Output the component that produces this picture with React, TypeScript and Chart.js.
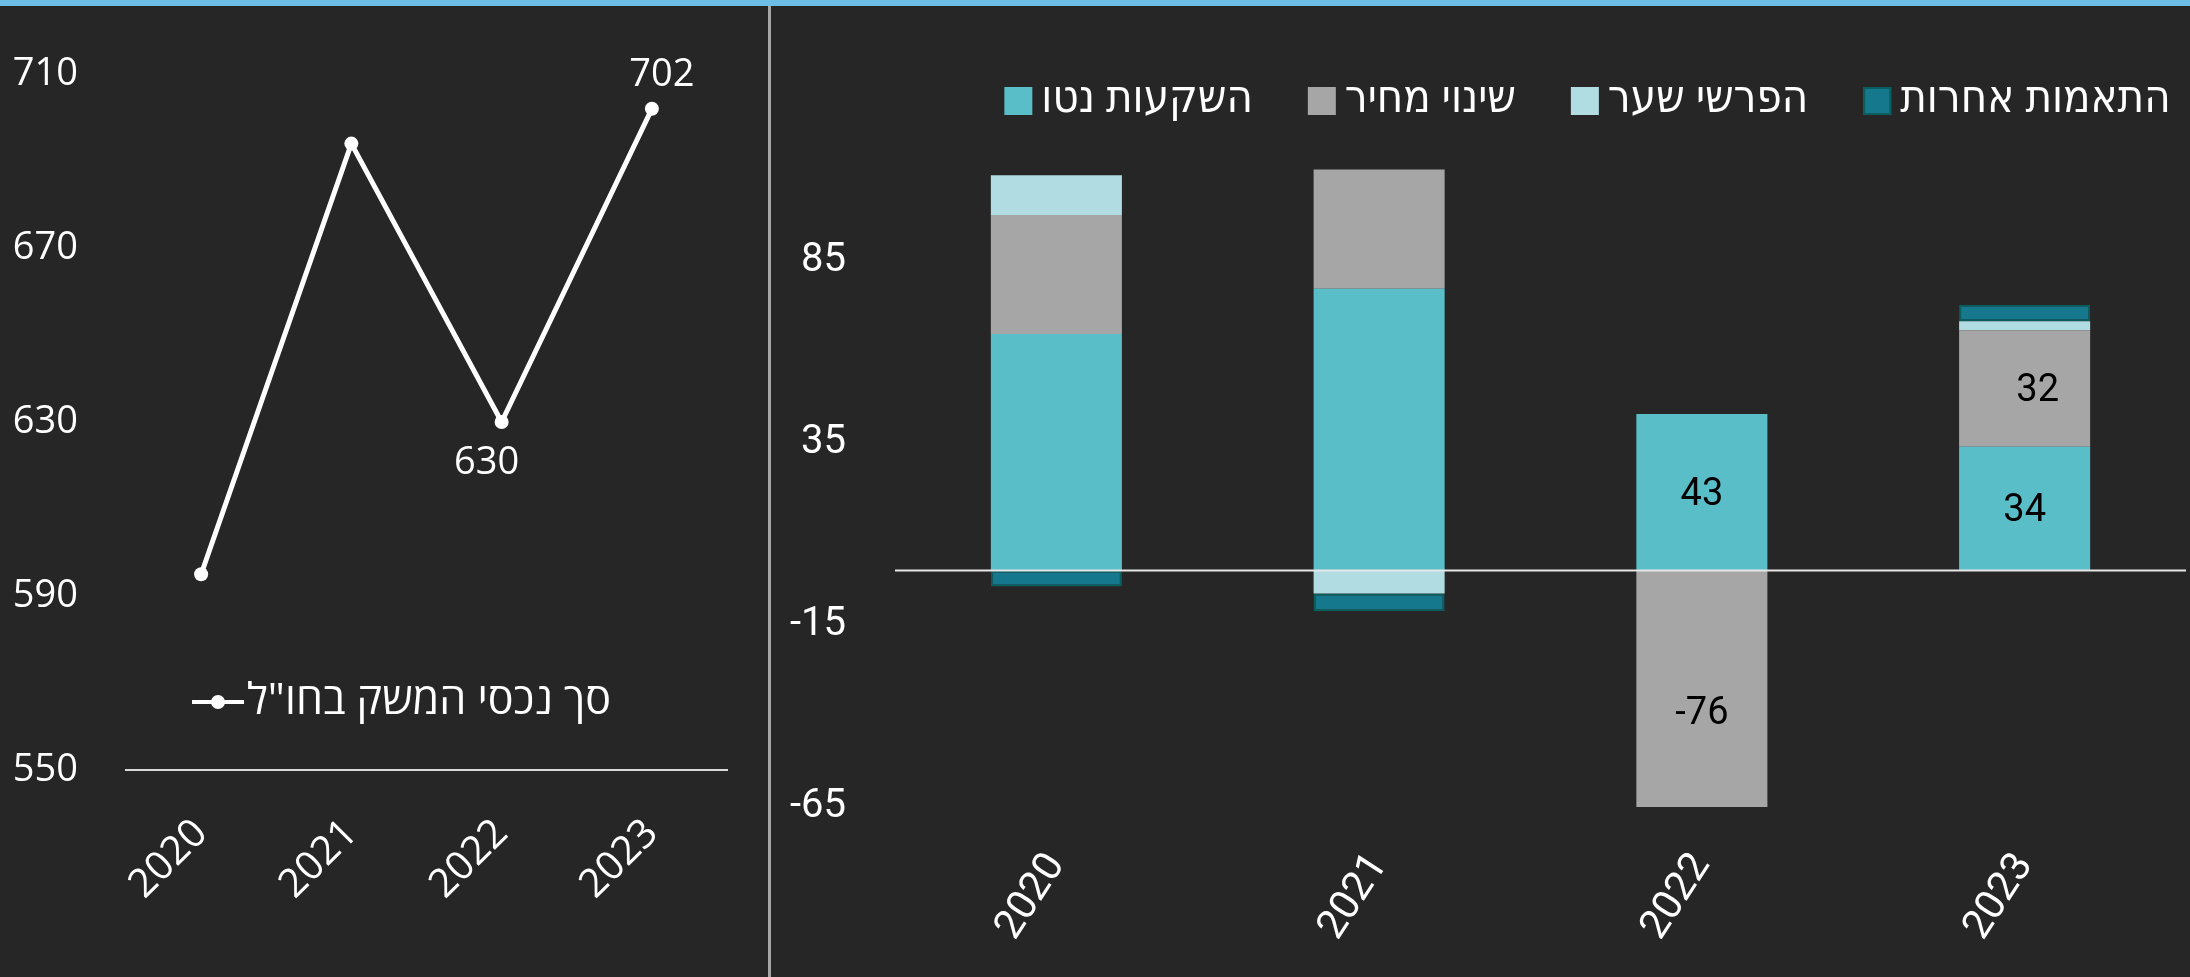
import React, { useEffect, useRef } from "react";
import { Chart, registerables } from "chart.js";

Chart.register(...registerables);

// ---------- data ----------
const years = ["2020", "2021", "2022", "2023"];

const totalLabel = 'סך נכסי המשק בחו"ל';
const totalAssets = [595, 694, 630, 702];
const totalTicks = [550, 590, 630, 670, 710];
const totalLabelledIdx = [2, 3];

const seriesNames = ["השקעות נטו", "שינוי מחיר", "הפרשי שער", "התאמות אחרות"];
const netInvestments = [65, 77.4, 43, 34];
const priceChange = [32.7, 32.8, -76, 32];
const fxDifferences = [10.9, -6.3, -20, 2.5];
const otherAdjustments = [-4.4, -4.9, -11, 4.5];
const flowTicks = [-65, -15, 35, 85];
const flowLabelledIdx = [2, 3];
const flowLabelledSeries = [0, 1];

// ---------- style ----------
const BG = "#262626";
const LEFT_FONT = '"Open Sans", "DejaVu Sans", sans-serif';
const RIGHT_FONT = 'Roboto, "DejaVu Sans Condensed", sans-serif';
const COLORS = ["#5ABEC9", "#A6A6A6", "#B1DDE2", "#16788C"];
const BORDERS = ["#5ABEC9", "#A6A6A6", "#B1DDE2", "#0B5E5E"];

const lineLegendPlugin = {
  id: "lineLegend",
  afterDraw(chart: any) {
    const { ctx, chartArea } = chart;
    const ds = chart.data.datasets[0];
    ctx.save();
    ctx.font = `43px ${LEFT_FONT}`;
    const text = ds.label as string;
    const tw = ctx.measureText(text).width;
    const markerW = 52;
    const gap = 3;
    const total = markerW + gap + tw;
    const cx = (chartArea.left + chartArea.right) / 2 - 25;
    const y = chartArea.bottom - 68;
    const x0 = cx - total / 2;
    ctx.strokeStyle = "#ffffff";
    ctx.lineWidth = 4;
    ctx.beginPath();
    ctx.moveTo(x0, y);
    ctx.lineTo(x0 + markerW, y);
    ctx.stroke();
    ctx.fillStyle = "#ffffff";
    ctx.beginPath();
    ctx.arc(x0 + markerW / 2, y, 7, 0, Math.PI * 2);
    ctx.fill();
    ctx.textAlign = "left";
    ctx.textBaseline = "middle";
    (ctx as any).direction = "rtl";
    ctx.fillText(text, x0 + markerW + gap, y);
    ctx.restore();
  },
};

const lineLabelsPlugin = {
  id: "lineLabels",
  afterDatasetsDraw(chart: any) {
    const { ctx } = chart;
    const meta = chart.getDatasetMeta(0);
    const data = chart.data.datasets[0].data as number[];
    ctx.save();
    ctx.font = `38px ${LEFT_FONT}`;
    ctx.fillStyle = "#ffffff";
    ctx.textAlign = "center";
    ctx.textBaseline = "middle";
    totalLabelledIdx.forEach((i) => {
      const pt = meta.data[i];
      const prev = i > 0 ? data[i - 1] : data[i];
      const below = data[i] < prev;
      const dx = below ? -15 : 10;
      const dy = below ? 41 : -34;
      ctx.fillText(String(data[i]), pt.x + dx, pt.y + dy);
    });
    ctx.restore();
  },
};

const zeroLinePlugin = {
  id: "zeroLine",
  afterDatasetsDraw(chart: any) {
    const { ctx, chartArea, scales } = chart;
    const y0 = scales.y.getPixelForValue(0);
    ctx.save();
    ctx.strokeStyle = "#e6e6e6";
    ctx.lineWidth = 2;
    ctx.beginPath();
    ctx.moveTo(chartArea.left, y0);
    ctx.lineTo(chartArea.right, y0);
    ctx.stroke();
    // data labels
    ctx.font = `38px ${RIGHT_FONT}`;
    ctx.fillStyle = "#000000";
    ctx.textAlign = "center";
    ctx.textBaseline = "middle";
    flowLabelledSeries.forEach((d) => {
      const meta = chart.getDatasetMeta(d);
      const data = chart.data.datasets[d].data as number[];
      flowLabelledIdx.forEach((i) => {
        const bar: any = meta.data[i];
        const cy = (bar.y + bar.base) / 2;
        const dx = d === 1 && data[i] > 0 ? 13 : 0;
        const dy = data[i] < 0 ? 6 : 3;
        ctx.fillText(String(Math.round(data[i])), bar.x + dx, cy + dy);
      });
    });
    ctx.restore();
  },
};

const barLegendPlugin = {
  id: "barLegend",
  afterDraw(chart: any) {
    const { ctx } = chart;
    const dss = chart.data.datasets;
    ctx.save();
    ctx.font = `45px ${RIGHT_FONT}`;
    const box = 28;
    const gapText = 9;
    const gapItem = 55;
    const widths = dss.map((d: any) => ctx.measureText(d.label).width);
    const total =
      widths.reduce((a: number, b: number) => a + b, 0) +
      dss.length * (box + gapText) +
      (dss.length - 1) * gapItem;
    const center = 1587.5 - 771;
    let x = center - total / 2;
    const y = 101;
    ctx.textBaseline = "middle";
    ctx.textAlign = "left";
    (ctx as any).direction = "rtl";
    dss.forEach((d: any, i: number) => {
      ctx.fillStyle = d.backgroundColor;
      ctx.fillRect(x, y - box / 2, box, box);
      if (d.borderColor !== d.backgroundColor) {
        ctx.strokeStyle = d.borderColor;
        ctx.lineWidth = 2;
        ctx.strokeRect(x + 1, y - box / 2 + 1, box - 2, box - 2);
      }
      ctx.fillStyle = "#ffffff";
      ctx.fillText(d.label, x + box + gapText, y);
      x += box + gapText + widths[i] + gapItem;
    });
    ctx.restore();
  },
};

export default function App() {
  const leftRef = useRef<HTMLCanvasElement>(null);
  const rightRef = useRef<HTMLCanvasElement>(null);

  useEffect(() => {
    document.body.style.margin = "0";
    document.body.style.background = BG;

    const left = new Chart(leftRef.current as HTMLCanvasElement, {
      type: "line",
      data: {
        labels: years,
        datasets: [
          {
            label: totalLabel,
            data: totalAssets,
            borderColor: "#ffffff",
            backgroundColor: "#ffffff",
            borderWidth: 5,
            pointRadius: 7,
            pointBackgroundColor: "#ffffff",
            pointBorderWidth: 0,
            tension: 0,
          },
        ],
      },
      options: {
        animation: false,
        responsive: true,
        maintainAspectRatio: false,
        layout: { padding: { left: 0, right: 41, top: 74, bottom: 0 } },
        plugins: { legend: { display: false }, tooltip: { enabled: false } },
        scales: {
          x: {
            offset: true,
            grid: { display: false, drawTicks: false },
            border: { display: true, color: "#d9d9d9", width: 2 },
            ticks: {
              color: "#ffffff",
              font: { family: LEFT_FONT, size: 40 },
              minRotation: 45,
              maxRotation: 45,
              padding: 40,
              autoSkip: false,
            },
            afterFit: (s: any) => {
              s.height = 207;
            },
          },
          y: {
            min: 550,
            max: 710,
            grid: { display: false, drawTicks: false },
            border: { display: false },
            ticks: {
              color: "#ffffff",
              font: { family: LEFT_FONT, size: 38 },
              padding: 48,
            },
            afterBuildTicks: (s: any) => {
              s.ticks = totalTicks.map((v) => ({ value: v }));
            },
            afterFit: (s: any) => {
              s.width = 126;
            },
          },
        },
      } as any,
      plugins: [lineLegendPlugin, lineLabelsPlugin],
    });

    const series = [netInvestments, priceChange, fxDifferences, otherAdjustments];
    const right = new Chart(rightRef.current as HTMLCanvasElement, {
      type: "bar",
      data: {
        labels: years,
        datasets: series.map((s, i) => ({
          label: seriesNames[i],
          data: s,
          backgroundColor: COLORS[i],
          borderColor: BORDERS[i],
          borderWidth: i === 3 ? 2 : 0,
          borderSkipped: false,
          categoryPercentage: 1,
          barPercentage: 0.406,
        })),
      },
      options: {
        animation: false,
        responsive: true,
        maintainAspectRatio: false,
        layout: { padding: { left: 0, right: 4, top: 152, bottom: 0 } },
        plugins: { legend: { display: false }, tooltip: { enabled: false } },
        scales: {
          x: {
            stacked: true,
            grid: { display: false, drawTicks: false },
            border: { display: false },
            ticks: {
              color: "#ffffff",
              font: { family: RIGHT_FONT, size: 41 },
              minRotation: 57,
              maxRotation: 57,
              padding: 38,
              autoSkip: false,
            },
            afterFit: (s: any) => {
              s.height = 170;
            },
          },
          y: {
            stacked: true,
            min: -65,
            max: 115,
            grid: { display: false, drawTicks: false },
            border: { display: false },
            ticks: {
              color: "#ffffff",
              font: { family: RIGHT_FONT, size: 40 },
              padding: 49,
            },
            afterBuildTicks: (s: any) => {
              s.ticks = flowTicks.map((v) => ({ value: v }));
            },
            afterFit: (s: any) => {
              s.width = 124;
            },
          },
        },
      } as any,
      plugins: [zeroLinePlugin, barLegendPlugin],
    });

    return () => {
      left.destroy();
      right.destroy();
    };
  }, []);

  return (
    <div
      style={{
        position: "relative",
        width: 2190,
        height: 977,
        background: BG,
        overflow: "hidden",
      }}
    >
      <div
        style={{
          position: "absolute",
          left: 0,
          top: 0,
          width: 2190,
          height: 6,
          background: "#6DBDE5",
        }}
      />
      <div
        style={{
          position: "absolute",
          left: 768,
          top: 6,
          width: 3,
          height: 971,
          background: "#a6a6a6",
        }}
      />
      <div style={{ position: "absolute", left: 0, top: 0, width: 768, height: 977 }}>
        <canvas ref={leftRef} />
      </div>
      <div style={{ position: "absolute", left: 771, top: 0, width: 1419, height: 977 }}>
        <canvas ref={rightRef} />
      </div>
    </div>
  );
}
